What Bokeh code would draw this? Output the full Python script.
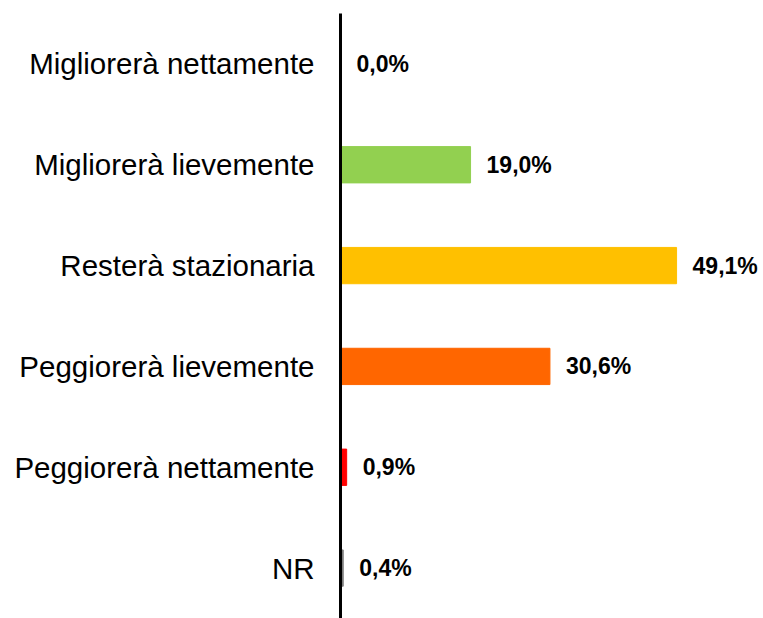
from bokeh.plotting import figure
from bokeh.models import ColumnDataSource, FactorRange, Range1d
from bokeh.core.properties import value
from bokeh.embed import file_html
from bokeh.resources import INLINE

categories = ["Migliorerà nettamente", "Migliorerà lievemente", "Resterà stazionaria",
              "Peggiorerà lievemente", "Peggiorerà nettamente", "NR"]
values = [0.0, 19.0, 49.1, 30.6, 0.9, 0.4]
labels = ["0,0%", "19,0%", "49,1%", "30,6%", "0,9%", "0,4%"]
colors = ["#92D050", "#92D050", "#FFC000", "#FF6600", "#FF0000", "#7F7F7F"]

src = ColumnDataSource(dict(cat=categories, val=values, lab=labels, col=colors))

p = figure(width=763, height=618, output_backend="svg", toolbar_location=None,
           y_range=FactorRange(*reversed(categories)), x_range=Range1d(0, 61.8),
           min_border_left=340, min_border_right=0, min_border_top=13, min_border_bottom=0)
p.hbar(y="cat", right="val", left=0, height=0.36, color="col", source=src)
p.text(x="val", y="cat", text="lab", source=src, x_offset=16, text_baseline="middle",
       text_align="left", text_font=value("Liberation Sans"), text_font_style="bold",
       text_font_size="23px", text_color="#000000")

p.xaxis.visible = False
p.grid.visible = False
p.outline_line_color = None
p.yaxis.axis_line_width = 3
p.yaxis.axis_line_color = "#000000"
p.yaxis.major_tick_line_color = None
p.yaxis.minor_tick_line_color = None
p.yaxis.major_label_standoff = 20
p.yaxis.major_label_text_font = "Liberation Sans"
p.yaxis.major_label_text_font_size = "29.5px"
p.yaxis.major_label_text_color = "#000000"
p.background_fill_color = "white"
p.border_fill_color = "white"

open("out.html", "w").write(file_html(p, INLINE))
